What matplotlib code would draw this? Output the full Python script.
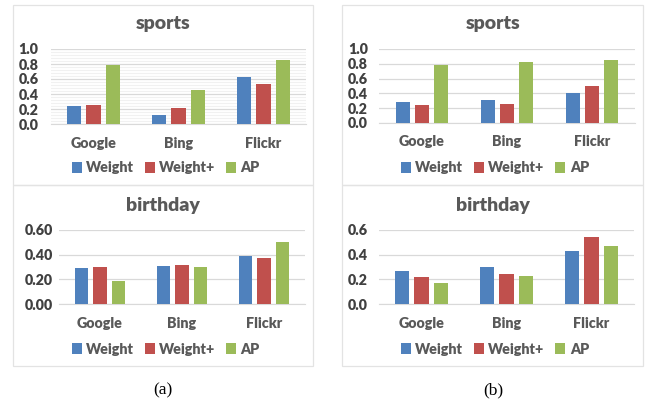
import matplotlib

matplotlib.use("Agg")
import matplotlib.pyplot as plt
import numpy as np
from matplotlib.patches import Rectangle, Patch

# data
categories = ["Google", "Bing", "Flickr"]
series = ["Weight", "Weight+", "AP"]

sports_a_weight = [0.24, 0.12, 0.63]
sports_a_weight_plus = [0.25, 0.21, 0.54]
sports_a_ap = [0.79, 0.45, 0.85]

sports_b_weight = [0.28, 0.31, 0.41]
sports_b_weight_plus = [0.24, 0.26, 0.50]
sports_b_ap = [0.79, 0.83, 0.85]

birthday_a_weight = [0.29, 0.31, 0.39]
birthday_a_weight_plus = [0.30, 0.32, 0.37]
birthday_a_ap = [0.19, 0.30, 0.50]

birthday_b_weight = [0.27, 0.30, 0.43]
birthday_b_weight_plus = [0.22, 0.24, 0.54]
birthday_b_ap = [0.17, 0.23, 0.47]

sports_ticks = [0.0, 0.2, 0.4, 0.6, 0.8, 1.0]
birthday_ticks = [0.0, 0.2, 0.4, 0.6]

COLORS = ["#4F81BD", "#C0504D", "#9BBB59"]
GRID = "#D9D9D9"
TXT = "#595959"
FONT = "Lato"

W, H = 654, 407
fig = plt.figure(figsize=(W / 100, H / 100), dpi=100)
fig.patch.set_facecolor("white")


def px_rect(left, right, top, bottom):
    return [left / W, 1 - bottom / H, (right - left) / W, (bottom - top) / H]


def panel(rect, values, ticks, fmt, title, title_xy, legend_xy, ypad, xpad, minor=False):
    ax = fig.add_axes(px_rect(*rect))
    x = np.arange(len(categories))
    width, step = 0.165, 0.224
    for i, vals in enumerate(values):
        ax.bar(x + (i - 1) * step, vals, width, color=COLORS[i], zorder=3)
    ax.set_xlim(-0.5, len(categories) - 0.5)
    ax.set_ylim(ticks[0], ticks[-1])
    ax.set_yticks(ticks)
    ax.set_yticklabels([fmt.format(t) for t in ticks])
    if minor:
        ax.set_yticks(np.arange(0.04, ticks[-1], 0.04), minor=True)
        ax.grid(axis="y", which="minor", color="#F1F1F1", linewidth=0.8, zorder=0)
        ax.tick_params(axis="y", which="minor", length=0)
    ax.grid(axis="y", which="major", color=GRID, linewidth=0.9, zorder=1)
    ax.set_xticks(x)
    ax.set_xticklabels(categories)
    for s in ["top", "right", "left"]:
        ax.spines[s].set_visible(False)
    ax.spines["bottom"].set_color(GRID)
    ax.tick_params(axis="both", length=0)
    ax.tick_params(axis="x", pad=xpad, labelcolor=TXT, labelsize=10.3)
    ax.tick_params(axis="y", pad=ypad, labelcolor="#404040", labelsize=10.3)
    for lab in ax.get_xticklabels() + ax.get_yticklabels():
        lab.set_fontfamily(FONT)
        lab.set_fontweight("heavy")

    fig.text(title_xy[0] / W, 1 - title_xy[1] / H, title, ha="center", va="center",
             fontsize=14, fontweight="heavy", color=TXT, family=FONT)
    handles = [Patch(facecolor=c, edgecolor="none") for c in COLORS]
    fig.legend(handles, series, loc="center", ncol=3, frameon=False,
               bbox_to_anchor=(legend_xy[0] / W, 1 - legend_xy[1] / H),
               handlelength=0.7, handleheight=0.7, handletextpad=0.3,
               columnspacing=0.75,
               prop={"family": FONT, "weight": "heavy", "size": 10.3},
               labelcolor=TXT)
    return ax


# panel frames
for left, right in [(13, 313), (342, 643)]:
    for top, bottom in [(5, 185), (185, 366)]:
        fig.add_artist(Rectangle((left / W, 1 - bottom / H), (right - left) / W,
                                 (bottom - top) / H, transform=fig.transFigure,
                                 facecolor="none", edgecolor="#E3E3E3", linewidth=0.9))

panel((51, 306, 49, 124), [sports_a_weight, sports_a_weight_plus, sports_a_ap],
      sports_ticks, "{:.1f}", "sports", (163, 23), (166, 168), 9, 9, minor=True)
panel((379, 635, 49, 123), [sports_b_weight, sports_b_weight_plus, sports_b_ap],
      sports_ticks, "{:.1f}", "sports", (493, 23), (495, 168), 8, 9)
panel((59, 305, 230, 304), [birthday_a_weight, birthday_a_weight_plus, birthday_a_ap],
      birthday_ticks, "{:.2f}", "birthday", (163, 205), (166, 349), 4.5, 9.5)
panel((379, 634, 230, 304), [birthday_b_weight, birthday_b_weight_plus, birthday_b_ap],
      birthday_ticks, "{:.1f}", "birthday", (493, 205), (495, 349), 8, 9.5)

fig.text(163 / W, 1 - 390 / H, "(a)", ha="center", va="center", fontsize=12.5,
         family="Liberation Serif", color="black")
fig.text(493 / W, 1 - 390 / H, "(b)", ha="center", va="center", fontsize=12.5,
         family="Liberation Serif", color="black")

fig.savefig("out.png", dpi=100)
